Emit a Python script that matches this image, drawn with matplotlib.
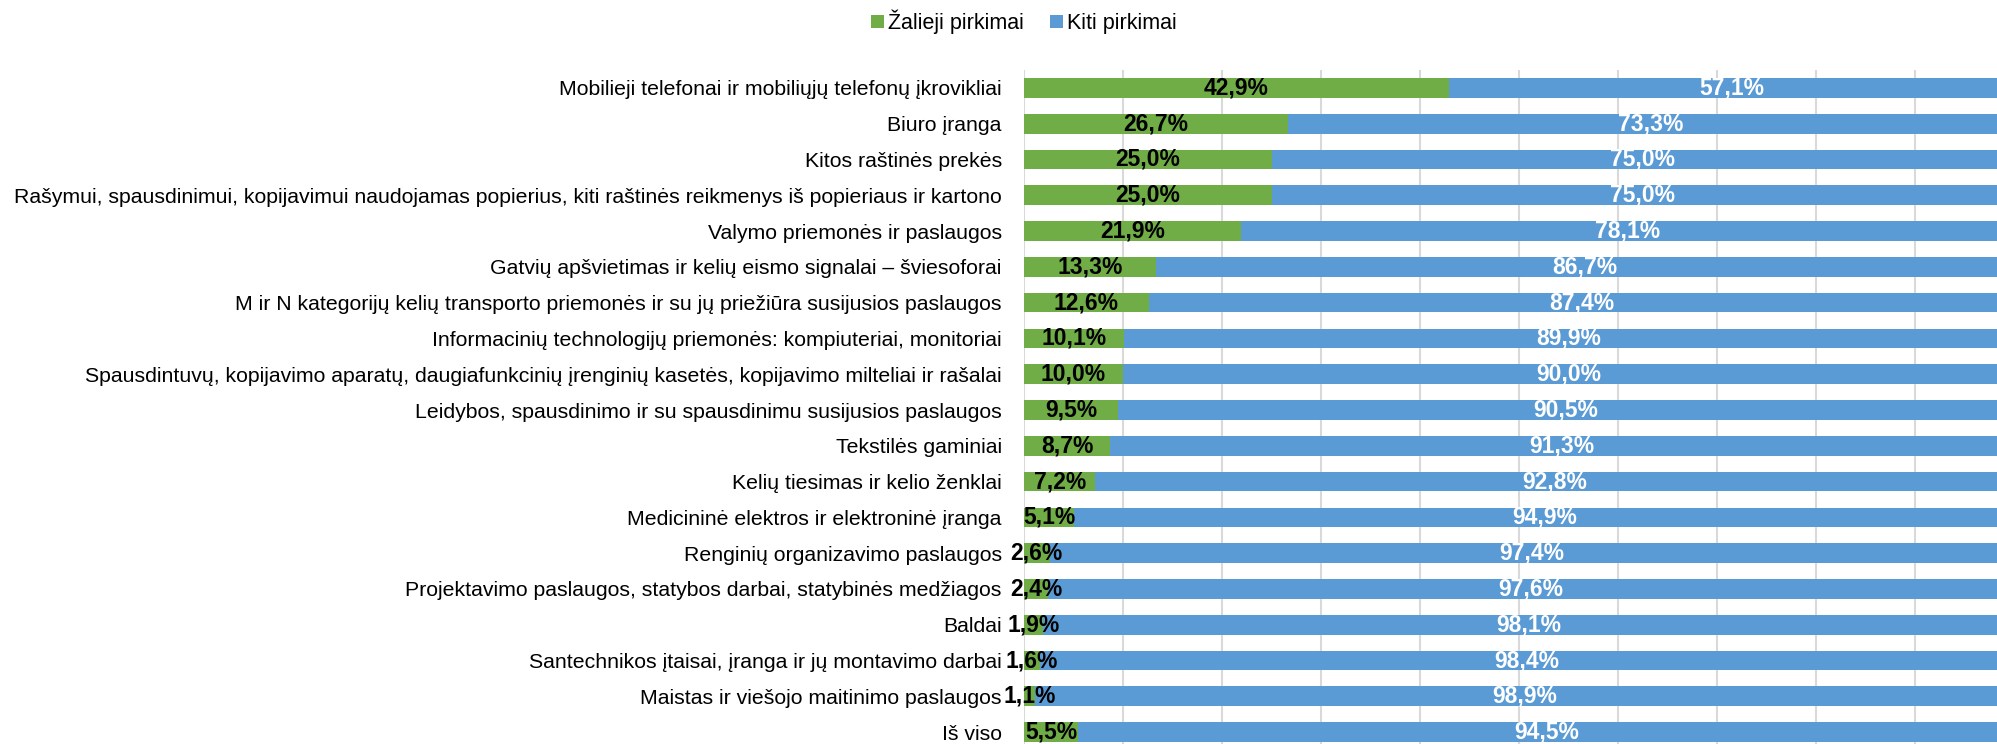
import matplotlib
matplotlib.use("Agg")
import matplotlib.pyplot as plt
import numpy as np

plt.rcParams['font.family'] = ['Liberation Sans', 'DejaVu Sans']

# categories, top to bottom
categories = [
    "Mobilieji telefonai ir mobiliųjų telefonų įkrovikliai",
    "Biuro įranga",
    "Kitos raštinės prekės",
    "Rašymui, spausdinimui, kopijavimui naudojamas popierius, kiti raštinės reikmenys iš popieriaus ir kartono",
    "Valymo priemonės ir paslaugos",
    "Gatvių apšvietimas ir kelių eismo signalai – šviesoforai",
    "M ir N kategorijų kelių transporto priemonės ir su jų priežiūra susijusios paslaugos",
    "Informacinių technologijų priemonės: kompiuteriai, monitoriai",
    "Spausdintuvų, kopijavimo aparatų, daugiafunkcinių įrenginių kasetės, kopijavimo milteliai ir rašalai",
    "Leidybos, spausdinimo ir su spausdinimu susijusios paslaugos",
    "Tekstilės gaminiai",
    "Kelių tiesimas ir kelio ženklai",
    "Medicininė elektros ir elektroninė įranga",
    "Renginių organizavimo paslaugos",
    "Projektavimo paslaugos, statybos darbai, statybinės medžiagos",
    "Baldai",
    "Santechnikos įtaisai, įranga ir jų montavimo darbai",
    "Maistas ir viešojo maitinimo paslaugos",
    "Iš viso",
]
zalieji = [42.9, 26.7, 25.0, 25.0, 21.9, 13.3, 12.6, 10.1, 10.0, 9.5, 8.7, 7.2, 5.1, 2.6, 2.4, 1.9, 1.6, 1.1, 5.5]
kiti = [57.1, 73.3, 75.0, 75.0, 78.1, 86.7, 87.4, 89.9, 90.0, 90.5, 91.3, 92.8, 94.9, 97.4, 97.6, 98.1, 98.4, 98.9, 94.5]

green = "#70AD47"
blue = "#5B9BD5"

W, H = 1997, 744
fig = plt.figure(figsize=(W/100, H/100), dpi=100)
# axes runs a bit past the right/bottom edge, like the cropped original
ax = fig.add_axes([1024/W, 1-750/H, 990/W, 680/H])

y = np.arange(len(categories))
b1 = ax.barh(y, zalieji, height=0.55, color=green, label="Žalieji pirkimai", zorder=3)
b2 = ax.barh(y, kiti, left=zalieji, height=0.55, color=blue, label="Kiti pirkimai", zorder=3)

def fmt(v):
    return f"{v:.1f}%".replace(".", ",")

ax.bar_label(b1, labels=[fmt(v) for v in zalieji], label_type='center',
             fontsize=16.5, fontweight='bold', color='black', zorder=4)
ax.bar_label(b2, labels=[fmt(v) for v in kiti], label_type='center',
             fontsize=16.5, fontweight='bold', color='white', zorder=4)

ax.set_xlim(0, 100)
ax.set_ylim(len(categories)-0.5, -0.5)
ax.set_yticks(y)
ax.set_yticklabels(categories, fontsize=15.3)
ax.tick_params(axis='y', length=0, pad=16)
ax.set_xticks(np.arange(0, 101, 10))
ax.tick_params(axis='x', length=0, labelbottom=False)
ax.grid(axis='x', color='#D9D9D9', linewidth=1.5, zorder=0)
for s in ax.spines.values():
    s.set_visible(False)

fig.legend(handles=[b1, b2], loc='center', bbox_to_anchor=(1024/W, 1-22/H),
           ncol=2, frameon=False, fontsize=15.5, handlelength=0.6, handleheight=0.6,
           handletextpad=0.2, columnspacing=1.2)

fig.savefig("out.png", dpi=100)
